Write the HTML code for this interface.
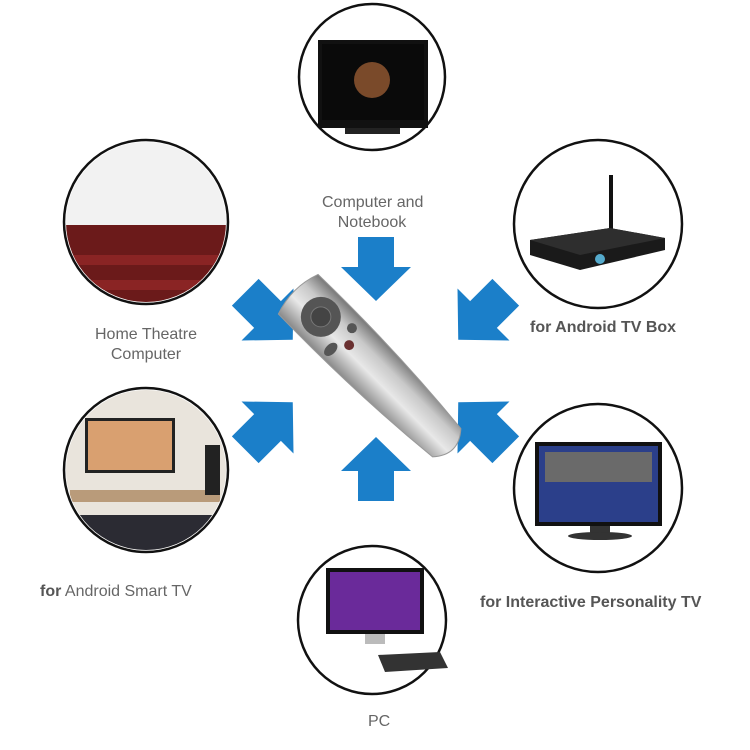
<!DOCTYPE html>
<html><head><style>
body{margin:0;background:#fff;width:750px;height:750px;overflow:hidden;font-family:"Liberation Sans",sans-serif}
.t{position:absolute;font-size:16px;color:#666;white-space:nowrap}
.b{font-weight:bold;color:#555}
</style></head><body>
<svg width="750" height="750" style="position:absolute;left:0;top:0">
<defs>
<path id="ar" d="M-18,-32 L18,-32 L18,-2 L35,-2 L0,32 L-35,-2 L-18,-2 Z" fill="#1b7fc9"/>
<linearGradient id="sil" x1="0" y1="0" x2="1" y2="0"><stop offset="0" stop-color="#888"/><stop offset="0.4" stop-color="#e8e8e8"/><stop offset="0.7" stop-color="#c9c9c9"/><stop offset="1" stop-color="#777"/></linearGradient>
</defs>
<g stroke="#111" stroke-width="2.5" fill="#fff">
<circle cx="372" cy="77" r="73"/>
<circle cx="146" cy="222" r="82"/>
<circle cx="598" cy="224" r="84"/>
<circle cx="146" cy="470" r="82"/>
<circle cx="598" cy="488" r="84"/>
<circle cx="372" cy="620" r="74"/>
</g>
<rect x="318" y="40" width="110" height="88" fill="#111"/>
<rect x="322" y="44" width="102" height="76" fill="#0a0a0a"/>
<circle cx="372" cy="80" r="18" fill="#7a4a2a"/>
<rect x="345" y="128" width="55" height="6" fill="#222"/>
<clipPath id="c1"><circle cx="146" cy="222" r="80"/></clipPath>
<g clip-path="url(#c1)">
<rect x="60" y="140" width="175" height="85" fill="#f2f2f2"/>
<rect x="60" y="225" width="175" height="85" fill="#6b1a1a"/>
<rect x="60" y="255" width="175" height="10" fill="#8a2424"/>
<rect x="60" y="280" width="175" height="10" fill="#8a2424"/>
</g>
<line x1="611" y1="240" x2="611" y2="175" stroke="#111" stroke-width="4"/>
<polygon points="530,240 610,228 665,238 665,250 580,270 530,255" fill="#1a1a1a"/>
<polygon points="530,240 610,228 665,238 580,255" fill="#2e2e2e"/>
<circle cx="600" cy="259" r="5" fill="#5ac" />
<clipPath id="c2"><circle cx="146" cy="470" r="80"/></clipPath>
<g clip-path="url(#c2)">
<rect x="60" y="390" width="175" height="165" fill="#e9e4dc"/>
<rect x="85" y="418" width="90" height="55" fill="#222"/>
<rect x="88" y="421" width="84" height="49" fill="#d9a070"/>
<rect x="70" y="490" width="150" height="12" fill="#b99b7a"/>
<rect x="205" y="445" width="15" height="50" fill="#222"/>
<rect x="60" y="515" width="175" height="40" fill="#2b2b33"/>
</g>
<rect x="535" y="442" width="127" height="84" fill="#111"/>
<rect x="539" y="446" width="119" height="76" fill="#2b3f8a"/>
<rect x="545" y="452" width="107" height="30" fill="#6a6a6a"/>
<rect x="590" y="526" width="20" height="8" fill="#333"/>
<ellipse cx="600" cy="536" rx="32" ry="4" fill="#333"/>
<rect x="326" y="568" width="98" height="66" fill="#111"/>
<rect x="330" y="572" width="90" height="58" fill="#6a2a9a"/>
<rect x="365" y="634" width="20" height="10" fill="#bbb"/>
<polygon points="378,655 440,652 448,668 385,672" fill="#333"/>
<use href="#ar" transform="translate(376,269)"/>
<use href="#ar" transform="translate(376,469) rotate(180)"/>
<use href="#ar" transform="translate(269,316) rotate(-45) scale(1.05)"/>
<use href="#ar" transform="translate(269,426) rotate(-135) scale(1.05)"/>
<use href="#ar" transform="translate(482,316) rotate(45) scale(1.05)"/>
<use href="#ar" transform="translate(482,426) rotate(135) scale(1.05)"/>
<g transform="translate(376,372) rotate(-45)">
<path d="M-28,-110 Q0,-120 28,-110 Q30,0 20,100 Q0,118 -20,100 Q-30,0 -28,-110 Z" fill="url(#sil)" stroke="#999"/>
<circle cx="0" cy="-78" r="20" fill="#555"/>
<circle cx="0" cy="-78" r="10" fill="#444" stroke="#777"/>
<ellipse cx="-16" cy="-48" rx="8" ry="5" fill="#555"/>
<circle cx="14" cy="-48" r="5" fill="#555"/>
<circle cx="0" cy="-38" r="5" fill="#6a3030"/>
</g>
</svg>
<div class="t" style="left:322px;top:193px;text-align:center;width:100px;line-height:20px">Computer and<br>Notebook</div>
<div class="t" style="left:76px;top:325px;text-align:center;width:140px;line-height:20px">Home Theatre<br>Computer</div>
<div class="t b" style="left:530px;top:319px">for Android TV Box</div>
<div class="t" style="left:40px;top:583px"><b style="color:#555">for</b> Android Smart TV</div>
<div class="t b" style="left:480px;top:594px">for Interactive Personality TV</div>
<div class="t" style="left:368px;top:713px">PC</div>
</body></html>
